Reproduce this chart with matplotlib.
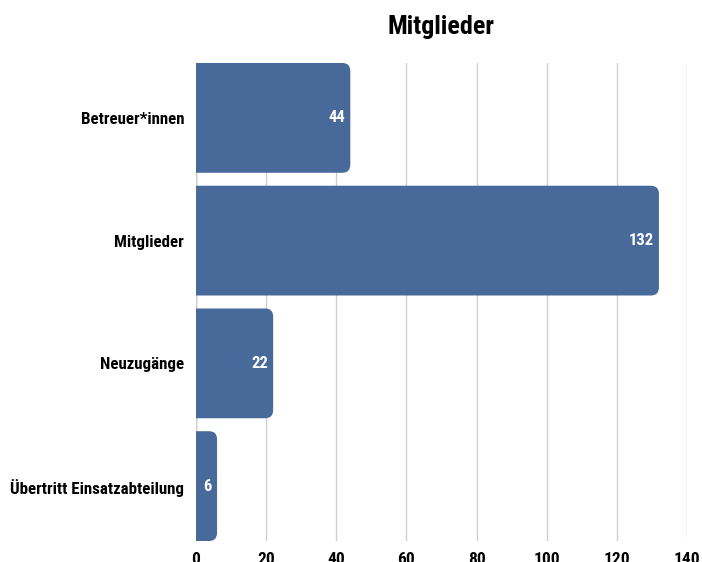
import matplotlib.pyplot as plt
from matplotlib.patches import FancyBboxPatch

categories = ["Betreuer*innen", "Mitglieder", "Neuzugänge", "Übertritt Einsatzabteilung"]
values = [44, 132, 22, 6]
xticks = [0, 20, 40, 60, 80, 100, 120, 140]

BAR_COLOR = "#476a9a"
FONT = ["Roboto Condensed", "DejaVu Sans"]

plt.rcParams["font.family"] = FONT
plt.rcParams["font.weight"] = "bold"

fig = plt.figure(figsize=(7.02, 5.62), dpi=100)
ax = fig.add_axes([0.2792, 0.0374, 0.6994, 0.8505])

h = 110 / 123
bars = ax.barh(range(len(categories)), values, height=h, color=BAR_COLOR, zorder=3)

ax.set_xlim(0, 140)
ax.set_ylim(len(categories) - 1 + h / 2, -h / 2)

# swap plain bars for ones with rounded right corners
px_x = 491 / 140
px_y = 123
r = 8
for b in bars:
    b.set_visible(False)
    rx = r / px_x
    ry = r / px_y
    patch = FancyBboxPatch((b.get_x() - rx * 2, b.get_y()), b.get_width() + rx * 2, b.get_height(),
                           boxstyle=f"round,pad=0,rounding_size={rx}",
                           mutation_aspect=ry / rx, fc=BAR_COLOR, ec="none", zorder=3)
    ax.add_patch(patch)

for i, v in enumerate(values):
    ax.text(v - 1.5, i, str(v), color="white", ha="right", va="center",
            fontsize=12, fontweight="bold", zorder=4)

ax.set_yticks(range(len(categories)))
ax.set_yticklabels(categories, fontsize=12.2)
ax.set_xticks(xticks)
ax.set_xticklabels([str(t) for t in xticks], fontsize=12.5)
ax.tick_params(axis="both", length=0)
ax.tick_params(axis="y", pad=8.6)
ax.tick_params(axis="x", pad=8)

ax.grid(axis="x", color="#d0d0d0", linewidth=1, zorder=0)
ax.axvline(0, color="#999999", linewidth=1, zorder=1)
for s in ax.spines.values():
    s.set_visible(False)

fig.text(0.6283, 0.952, "Mitglieder", ha="center", va="center", fontsize=18.7, fontweight="bold")

fig.savefig("out.png", dpi=100)
